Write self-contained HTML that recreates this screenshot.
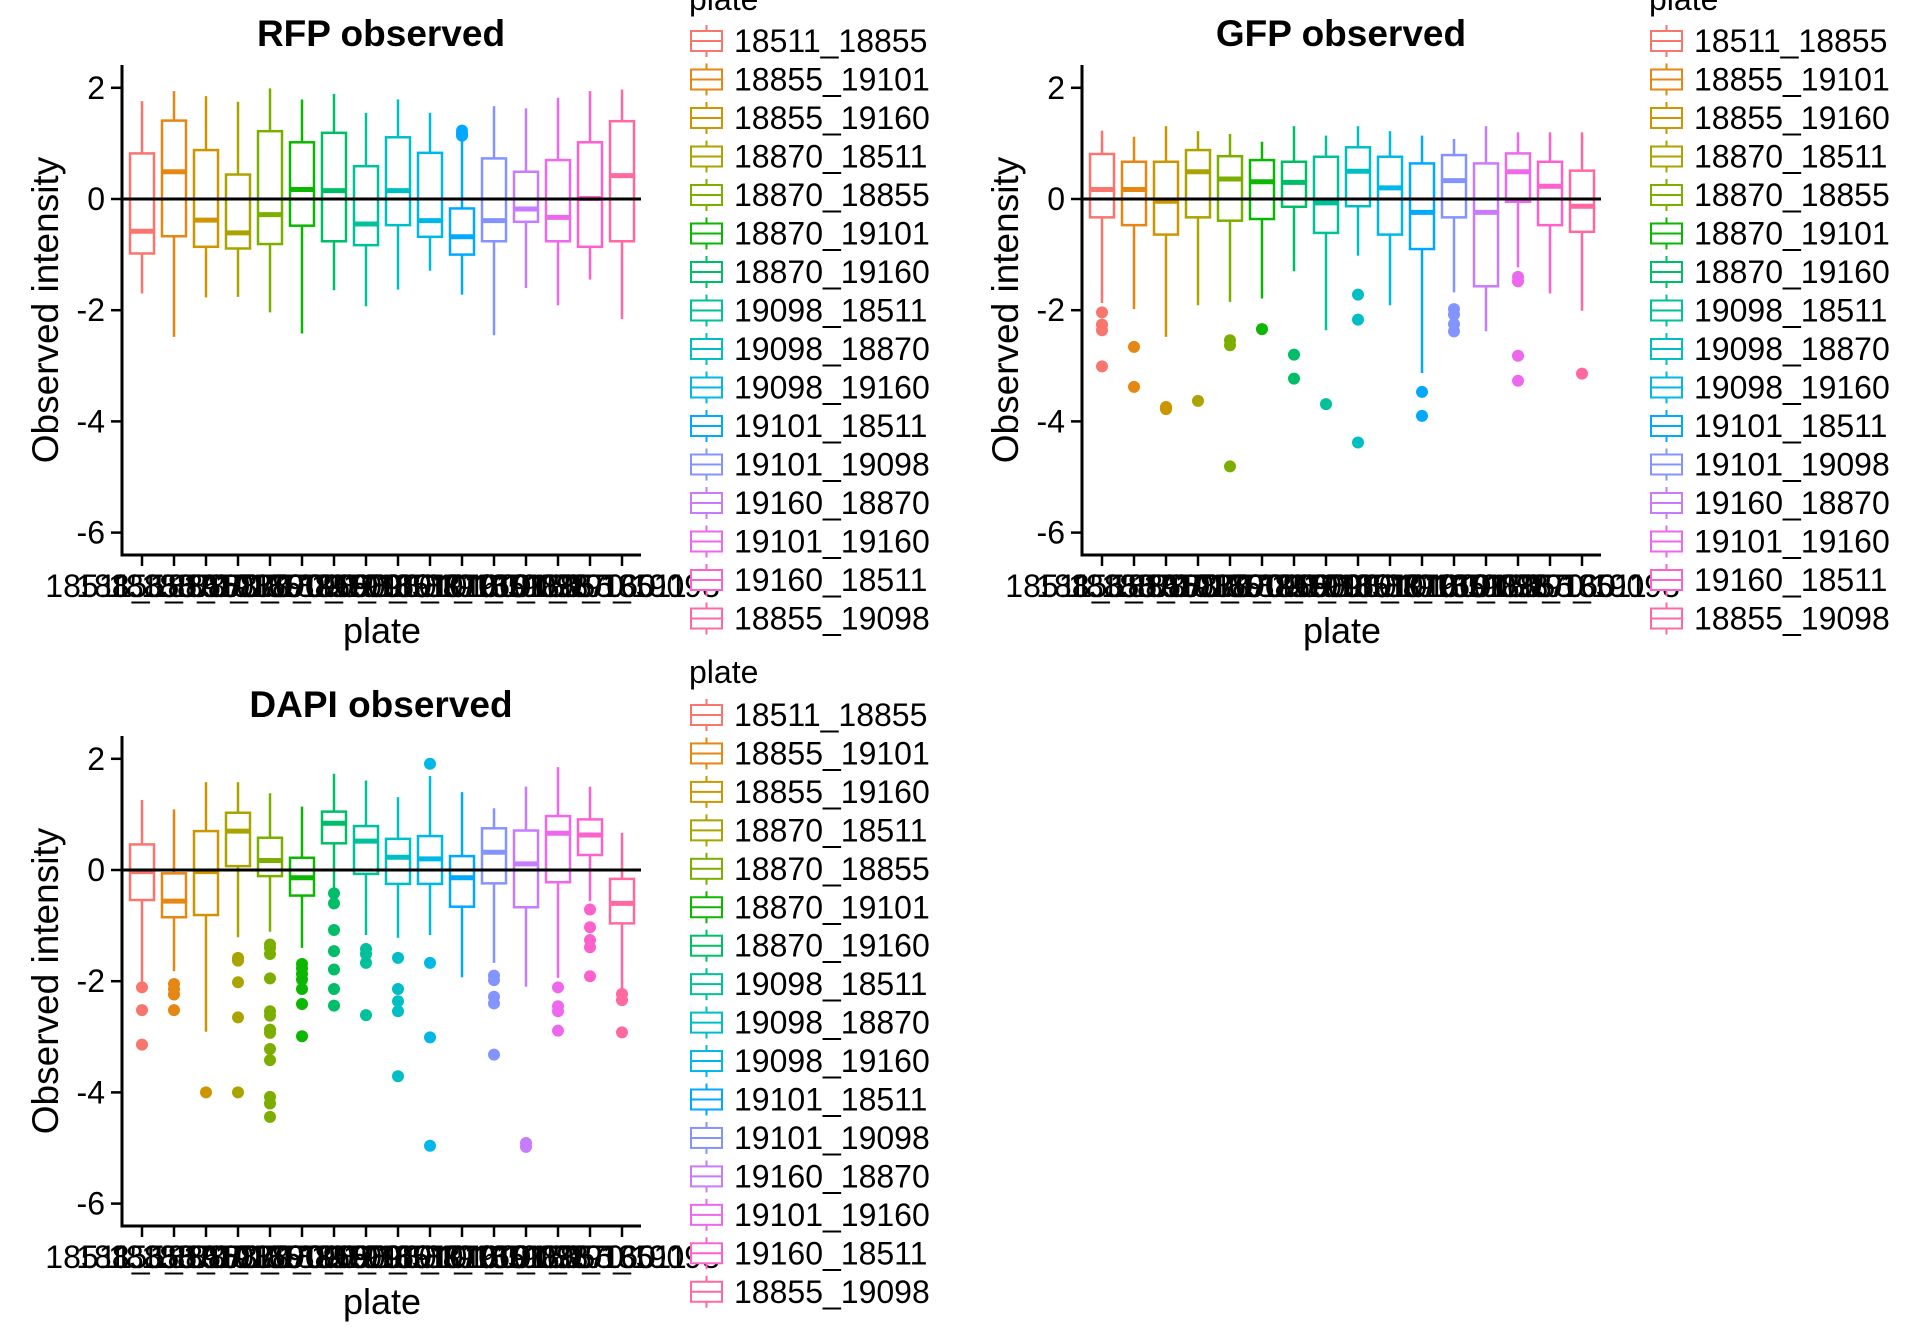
<!DOCTYPE html>
<html><head><meta charset="utf-8">
<style>
html,body{margin:0;padding:0;background:#fff;}
svg{display:block;font-family:"Liberation Sans",sans-serif;}
</style></head>
<body>
<svg id="chart" width="1920" height="1344" viewBox="0 0 1920 1344" xmlns="http://www.w3.org/2000/svg"></svg>
<script>
const categories = ["18511_18855","18855_19101","18855_19160","18870_18511","18870_18855","18870_19101","18870_19160","19098_18511","19098_18870","19098_19160","19101_18511","19101_19098","19160_18870","19101_19160","19160_18511","18855_19098"];
const colors = ["#F8766D","#E68613","#CD9600","#ABA300","#7CAE00","#0CB702","#00BE67","#00C19A","#00BFC4","#00B8E7","#00A9FF","#8494FF","#C77CFF","#ED68ED","#FF61CC","#FF68A1"];
const yTicks = [2,0,-2,-4,-6];
const yTickLabels = ["2","0","-2","-4","-6"];
// each: [whiskerHigh, Q3, median, Q1, whiskerLow]
const rfpStats = [[1.76,0.82,-0.58,-0.98,-1.70],[1.94,1.41,0.49,-0.67,-2.48],[1.85,0.88,-0.38,-0.86,-1.77],[1.75,0.44,-0.61,-0.89,-1.76],[1.99,1.22,-0.28,-0.81,-2.04],[1.79,1.02,0.17,-0.48,-2.42],[1.89,1.19,0.15,-0.76,-1.64],[1.55,0.59,-0.45,-0.83,-1.93],[1.79,1.11,0.15,-0.47,-1.63],[1.55,0.83,-0.39,-0.68,-1.29],[1.12,-0.17,-0.68,-1.00,-1.72],[1.67,0.73,-0.39,-0.76,-2.45],[1.63,0.49,-0.18,-0.41,-1.60],[1.82,0.70,-0.33,-0.76,-1.91],[1.94,1.02,0.01,-0.86,-1.45],[1.97,1.40,0.42,-0.76,-2.16]];
const rfpOutliers = [[],[],[],[],[],[],[],[],[],[],[1.23,1.17,1.14],[],[],[],[],[]];
const gfpStats = [[1.23,0.81,0.17,-0.33,-1.87],[1.12,0.67,0.17,-0.47,-1.98],[1.31,0.67,-0.04,-0.64,-2.48],[1.22,0.88,0.49,-0.33,-1.91],[1.17,0.77,0.36,-0.39,-1.85],[1.03,0.70,0.31,-0.36,-1.79],[1.31,0.67,0.30,-0.14,-1.30],[1.14,0.76,-0.07,-0.61,-2.36],[1.31,0.93,0.50,-0.13,-1.02],[1.22,0.76,0.20,-0.64,-1.91],[1.14,0.64,-0.24,-0.90,-3.13],[1.08,0.79,0.33,-0.33,-1.68],[1.31,0.64,-0.24,-1.57,-2.38],[1.20,0.82,0.49,-0.05,-1.23],[1.20,0.67,0.23,-0.47,-1.70],[1.20,0.51,-0.13,-0.59,-2.01]];
const gfpOutliers = [[-2.04,-2.26,-2.36,-3.01],[-2.66,-3.38],[-3.74,-3.78],[-3.63],[-2.54,-2.63,-4.81],[-2.34],[-2.80,-3.23],[-3.69],[-1.72,-2.17,-4.38],[],[-3.47,-3.90],[-1.98,-2.08,-2.25,-2.38],[],[-1.40,-1.48,-2.82,-3.27],[],[-3.14]];
const dapiStats = [[1.26,0.46,-0.03,-0.54,-2.02],[1.09,-0.06,-0.56,-0.85,-1.82],[1.58,0.70,-0.03,-0.81,-2.91],[1.58,1.03,0.70,0.07,-1.21],[1.38,0.58,0.17,-0.11,-1.11],[1.14,0.22,-0.14,-0.46,-1.40],[1.73,1.05,0.84,0.48,-0.40],[1.61,0.79,0.52,-0.07,-1.17],[1.31,0.56,0.23,-0.25,-1.22],[1.69,0.61,0.20,-0.25,-1.17],[1.40,0.25,-0.14,-0.66,-1.93],[1.11,0.75,0.32,-0.24,-1.67],[1.50,0.71,0.11,-0.67,-2.10],[1.85,0.97,0.66,-0.22,-1.94],[1.50,0.91,0.63,0.27,-0.56],[0.67,-0.16,-0.60,-0.96,-2.24]];
const dapiOutliers = [[-2.11,-2.52,-3.14],[-2.05,-2.14,-2.24,-2.52],[-4.00],[-1.58,-1.63,-2.02,-2.65,-4.00],[-1.34,-1.40,-1.51,-1.95,-2.54,-2.62,-2.87,-2.93,-3.22,-3.42,-4.08,-4.20,-4.44],[-1.69,-1.77,-1.87,-1.97,-2.14,-2.41,-2.99],[-0.42,-0.60,-1.08,-1.46,-1.79,-2.14,-2.44],[-1.42,-1.51,-1.67,-2.61],[-1.58,-2.14,-2.36,-2.54,-3.71],[1.91,-1.67,-3.01,-4.96],[],[-1.90,-1.98,-2.28,-2.40,-3.32],[-4.91,-4.98],[-2.11,-2.45,-2.54,-2.89],[-0.71,-1.03,-1.26,-1.39,-1.91],[-2.23,-2.34,-2.92]];

const svg = document.getElementById('chart');
const NS = 'http://www.w3.org/2000/svg';
function mk(tag, attrs, parent){const e=document.createElementNS(NS,tag);for(const k in attrs)e.setAttribute(k,attrs[k]);(parent||svg).appendChild(e);return e;}

function panel(name, title, stats, outs, ox, oy, zeroY, unit, axTop, axBot){
  const g = mk('g',{});
  
  
  const axL = ox+122, axR = ox+641;
  const xs = i => ox+142+32*i;
  const ys = v => oy+zeroY - v*unit;
  const t = mk('text',{x:ox+381,y:oy+46,'text-anchor':'middle','font-size':37,'font-weight':'bold'},g);
  t.textContent = title;
  
  
  for(let i=0;i<stats.length;i++){
    const s=stats[i], c=colors[i], x=xs(i);
    const bg = mk('g',{},g);
    
    
    mk('line',{x1:x,x2:x,y1:ys(s[0]),y2:ys(s[1]),stroke:c,'stroke-width':2.5},bg);
    mk('line',{x1:x,x2:x,y1:ys(s[3]),y2:ys(s[4]),stroke:c,'stroke-width':2.5},bg);
    mk('rect',{x:x-12,y:ys(s[1]),width:24,height:ys(s[3])-ys(s[1]),fill:'#fff',stroke:c,'stroke-width':2.5},bg);
    mk('line',{x1:x-12,x2:x+12,y1:ys(s[2]),y2:ys(s[2]),stroke:c,'stroke-width':5},bg);
    for(const o of outs[i]){
      const p = mk('circle',{cx:x,cy:ys(o),r:6,fill:c},bg);
      
      
    }
  }
  const zl = mk('line',{x1:axL,x2:axR,y1:ys(0),y2:ys(0),stroke:'#000','stroke-width':3},g);
  
  
  const ya = mk('line',{x1:axL,x2:axL,y1:oy+axTop,y2:oy+axBot+1.5,stroke:'#000','stroke-width':3},g);
  
  
  const xa = mk('line',{x1:axL-1.5,x2:axR,y1:oy+axBot,y2:oy+axBot,stroke:'#000','stroke-width':3},g);
  
  
  yTicks.forEach((v,k)=>{
    mk('line',{x1:axL-11,x2:axL,y1:ys(v),y2:ys(v),stroke:'#000','stroke-width':2.5},g);
    const tl = mk('text',{x:axL-17,y:ys(v)+11,'text-anchor':'end','font-size':32},g);
    tl.textContent = yTickLabels[k];
    
    
  });
  categories.forEach((c,i)=>{
    mk('line',{x1:xs(i),x2:xs(i),y1:oy+axBot,y2:oy+axBot+11,stroke:'#000','stroke-width':2.5},g);
    const tl = mk('text',{x:xs(i),y:oy+axBot+42,'text-anchor':'middle','font-size':32},g);
    tl.textContent = c;
    
    
  });
  const xt = mk('text',{x:ox+382,y:oy+axBot+88,'text-anchor':'middle','font-size':36},g);
  xt.textContent='plate';
  
  
  const cy = oy+(axTop+axBot)/2;
  const yt = mk('text',{x:ox+58,y:cy,'text-anchor':'middle','font-size':37,transform:`rotate(-90 ${ox+58} ${cy})`},g);
  yt.textContent='Observed intensity';
  
  
}

function legend(name, kx, titleY, row0, pitch){
  const g = mk('g',{});
  
  
  const tt = mk('text',{x:kx-2,y:titleY,'font-size':32},g);
  tt.textContent='plate';
  
  
  categories.forEach((c,i)=>{
    const cy=row0+pitch*i;
    const e = mk('g',{},g);
    
    
    mk('line',{x1:kx+15.5,x2:kx+15.5,y1:cy-16,y2:cy+16,stroke:colors[i],'stroke-width':2},e);
    mk('rect',{x:kx,y:cy-10,width:31,height:20,fill:'#fff',stroke:colors[i],'stroke-width':2},e);
    mk('line',{x1:kx,x2:kx+31,y1:cy,y2:cy,stroke:colors[i],'stroke-width':2},e);
    const tx = mk('text',{x:kx+43,y:cy+11,'font-size':32},e);
    tx.textContent=c;
  });
}

panel('rfp','RFP observed',rfpStats,rfpOutliers,0,0,199,55.6,65,555);
panel('gfp','GFP observed',gfpStats,gfpOutliers,960,0,199,55.6,65,555);
panel('dapi','DAPI observed',dapiStats,dapiOutliers,0,671,199,55.6,65,555);
legend('rfp',691,10,41,38.5);
legend('gfp',1651,10,41,38.5);
legend('dapi',691,683,715,38.45);
</script>
</body></html>
